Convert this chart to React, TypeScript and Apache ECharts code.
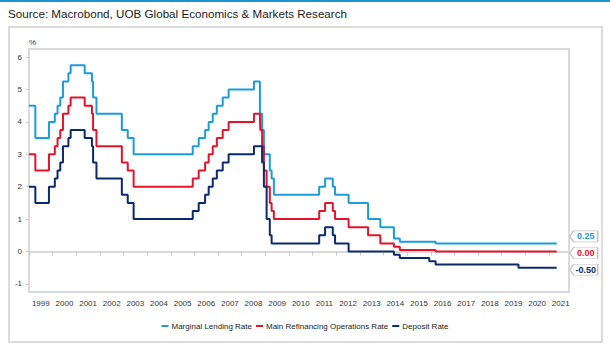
import React, { useEffect, useRef } from "react";
import * as echarts from "echarts";

// ECB policy rate change dates and levels (%)
const changeDates = [
  "1999-01-01", "1999-04-09", "1999-11-05", "2000-02-04", "2000-03-17", "2000-04-28",
  "2000-06-09", "2000-09-01", "2000-10-06", "2001-05-11", "2001-08-31", "2001-09-18",
  "2001-11-09", "2002-12-06", "2003-03-07", "2003-06-06", "2005-12-06", "2006-03-08",
  "2006-06-15", "2006-08-09", "2006-10-11", "2006-12-13", "2007-03-14", "2007-06-13",
  "2008-07-09", "2008-10-09", "2008-10-15", "2008-11-12", "2008-12-10", "2009-01-21",
  "2009-03-11", "2009-04-08", "2009-05-13", "2011-04-13", "2011-07-13", "2011-11-09",
  "2011-12-14", "2012-07-11", "2013-05-08", "2013-11-13", "2014-06-11", "2014-09-10",
  "2015-12-09", "2016-03-16", "2019-09-18", "2021-05-01",
];
const marginalLending = [
  4.5, 3.5, 4.0, 4.25, 4.5, 4.75, 5.25, 5.5, 5.75, 5.5, 5.25, 4.75,
  4.25, 3.75, 3.5, 3.0, 3.25, 3.5, 3.75, 4.0, 4.25, 4.5, 4.75, 5.0,
  5.25, 4.25, 4.25, 3.75, 3.0, 3.0, 2.5, 2.25, 1.75, 2.0, 2.25, 2.0,
  1.75, 1.5, 1.0, 0.75, 0.4, 0.3, 0.3, 0.25, 0.25, 0.25,
];
const mainRefi = [
  3.0, 2.5, 3.0, 3.25, 3.5, 3.75, 4.25, 4.5, 4.75, 4.5, 4.25, 3.75,
  3.25, 2.75, 2.5, 2.0, 2.25, 2.5, 2.75, 3.0, 3.25, 3.5, 3.75, 4.0,
  4.25, 4.25, 3.75, 3.25, 2.5, 2.0, 1.5, 1.25, 1.0, 1.25, 1.5, 1.25,
  1.0, 0.75, 0.5, 0.25, 0.15, 0.05, 0.05, 0.0, 0.0, 0.0,
];
const depositRate = [
  2.0, 1.5, 2.0, 2.25, 2.5, 2.75, 3.25, 3.5, 3.75, 3.5, 3.25, 2.75,
  2.25, 1.75, 1.5, 1.0, 1.25, 1.5, 1.75, 2.0, 2.25, 2.5, 2.75, 3.0,
  3.25, 3.25, 3.25, 2.75, 2.0, 1.0, 0.5, 0.25, 0.25, 0.5, 0.75, 0.5,
  0.25, 0.0, 0.0, 0.0, -0.1, -0.2, -0.3, -0.4, -0.5, -0.5,
];
const seriesNames = ["Marginal Lending Rate", "Main Refinancing Operations Rate", "Deposit Rate"];
const seriesColors = ["#1b9ddb", "#e3142b", "#0b2a6c"];
const yearLabels = [
  "1999", "2000", "2001", "2002", "2003", "2004", "2005", "2006", "2007", "2008", "2009",
  "2010", "2011", "2012", "2013", "2014", "2015", "2016", "2017", "2018", "2019", "2020", "2021",
];
const yTicks = [-1, 0, 1, 2, 3, 4, 5, 6];
const titleText = "Source: Macrobond, UOB Global Economics & Markets Research";

const SANS = "'Liberation Sans', Arial, sans-serif";

function toYear(d: string): number {
  const [y, m, dd] = d.split("-").map(Number);
  const s = Date.UTC(y, 0, 1);
  const e = Date.UTC(y + 1, 0, 1);
  return y + (Date.UTC(y, m - 1, dd) - s) / (e - s);
}

export default function App() {
  const ref = useRef<HTMLDivElement>(null);
  useEffect(() => {
    if (!ref.current) return;
    const chart = echarts.init(ref.current, undefined, { renderer: "svg" });
    const allVals = [marginalLending, mainRefi, depositRate];
    const labelShift = [-7, 1.5, 2];
    const series = allVals.map((vals, si) => {
      const data = changeDates.map((d, i) => [toYear(d), vals[i]]);
      const last = data[data.length - 1];
      return {
        type: "line",
        name: seriesNames[si],
        data,
        step: "end",
        showSymbol: false,
        symbol: "none",
        lineStyle: { width: 2, color: seriesColors[si] },
        itemStyle: { color: seriesColors[si] },
        markPoint: {
          silent: true,
          symbol: "path://M0,5.5 L4,0 L28,0 L28,11 L4,11 Z",
          symbolSize: [28, 11],
          symbolKeepAspect: false,
          itemStyle: { color: "#ffffff", borderColor: "#c4c4c4", borderWidth: 1 },
          data: [
            {
              coord: [last[0], last[1]],
              value: last[1],
              symbolOffset: [27, labelShift[si]],
              label: {
                show: true,
                position: "inside",
                offset: [2, 0],
                formatter: () => (last[1] as number).toFixed(2),
                color: seriesColors[si],
                fontSize: 9,
                fontWeight: "bold",
                fontFamily: SANS,
              },
            },
          ],
        },
      };
    });

    chart.setOption({
      animation: false,
      backgroundColor: "#ffffff",
      graphic: [
        { type: "rect", shape: { x: 0, y: 0, width: 610, height: 2 }, style: { fill: "#1a94d4" }, silent: true },
        {
          type: "rect",
          shape: { x: 9, y: 27, width: 593, height: 315 },
          style: { fill: "none", stroke: "#dcdcdc", lineWidth: 2 },
          silent: true,
        },
        {
          type: "text",
          x: 8,
          y: 7,
          style: {
            text: titleText,
            fontSize: 11.65,
            fontFamily: SANS,
            fill: "#1a1a1a",
          },
          silent: true,
        },
      ],
      grid: {
        left: 29,
        right: 41,
        top: 49,
        bottom: 61,
        show: true,
        borderColor: "#dadada",
        borderWidth: 2,
        containLabel: false,
      },
      legend: {
        data: seriesNames,
        top: 322,
        left: "center",
        icon: "rect",
        itemWidth: 7,
        itemHeight: 2,
        itemGap: 4,
        textStyle: { fontSize: 8, fontFamily: SANS, color: "#222", padding: [0, 0, 0, -2] },
        padding: 0,
      },
      xAxis: {
        type: "value",
        min: 1999,
        max: 2021.85,
        splitLine: { show: false },
        axisLine: { show: true, lineStyle: { color: "#dadada", width: 2 } },
        axisTick: {
          show: true,
          length: 4,
          lineStyle: { color: "#c8c8c8" },
          customValues: yearLabels.map((y) => Number(y)),
        },
        axisLabel: {
          customValues: yearLabels.map((y) => Number(y) + 0.5),
          formatter: (v: number) => String(Math.floor(v)),
          fontSize: 8,
          fontFamily: SANS,
          color: "#333",
          margin: 7,
        },
      },
      yAxis: {
        type: "value",
        min: -1.25,
        max: 6.25,
        name: "%",
        nameLocation: "end",
        nameGap: 3,
        nameTextStyle: { fontSize: 8, fontFamily: SANS, color: "#333", align: "left", padding: [0, 0, 0, 0] },
        splitLine: { show: false },
        axisLine: { show: true, lineStyle: { color: "#dadada", width: 2 } },
        axisTick: { show: true, length: 3, lineStyle: { color: "#c8c8c8" }, customValues: yTicks },
        axisLabel: {
          customValues: yTicks,
          fontSize: 8,
          fontFamily: SANS,
          color: "#333",
          margin: 7,
        },
      },
      series,
    });
    return () => chart.dispose();
  }, []);
  return (
    <div
      ref={ref}
      style={{ position: "fixed", left: 0, top: 0, width: 610, height: 353, background: "#fff" }}
    />
  );
}
